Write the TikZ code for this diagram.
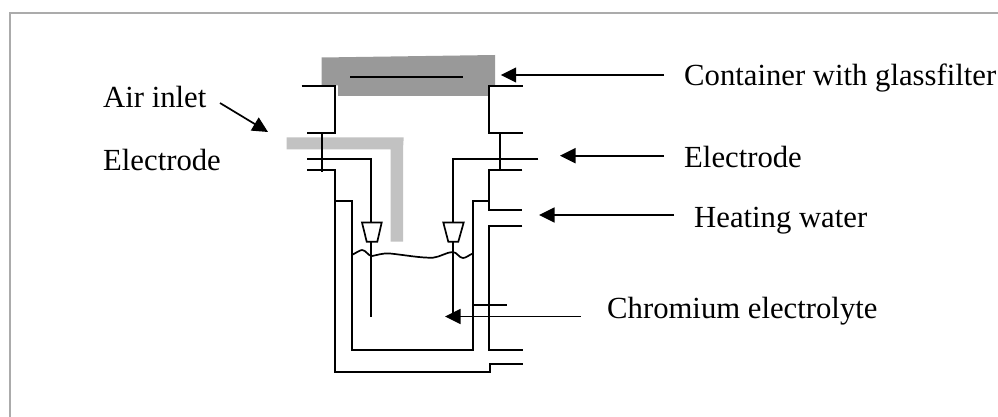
\documentclass[tikz,border=0pt]{standalone}
\usepackage{fontspec}
\setmainfont{Liberation Serif}
\usetikzlibrary{arrows.meta}
\definecolor{lidgray}{gray}{0.6}
\definecolor{tubegray}{gray}{0.76}
\definecolor{framegray}{gray}{0.67}
\tikzstyle{label} = [anchor=base west, inner sep=0pt, font=\fontsize{30.7}{30.7}\selectfont]
\tikzstyle{wall} = [line width=1.7pt, line join=miter]
\tikzstyle{arrow} = [line width=1.7pt,-{Triangle[length=15.5pt,width=15pt]}]
\begin{document}
\begin{tikzpicture}[x=1pt,y=-1pt]
		\useasboundingbox (0,0) rectangle (998,417);
		% frame
		\draw [framegray, line width=2pt] (10,417) -- (10,13.5) -- (998,13.5);
		% container and air tube
		\fill [lidgray] (321.5,57.5) -- (495,55) -- (495,85.5) -- (488.5,85.5) -- (488.5,96) -- (338,96) -- (338,85.5) -- (321.5,85.5) -- cycle;
		\fill [tubegray] (286.7,137.3) -- (403.7,137.3) -- (403,149.3) -- (403,241.7) -- (390.7,241.7) -- (390.7,149.3) -- (286.7,149.3) -- cycle;
		\draw [wall] (350,77) -- (463,77);
		% upper glass parts
		\draw [wall] (301.7,86.3) -- (335.3,86.3) -- (335.3,132.7) -- (307,132.7);
		\draw [wall] (522.5,86.3) -- (488.7,86.3) -- (488.7,132.7) -- (522.5,132.7);
		\draw [wall] (321.7,132.7) -- (321.7,171.7);
		\draw [wall] (500,132.7) -- (500,170);
		% electrodes
		\draw [wall] (307,158.7) -- (371,158.7) -- (371,222.5);
		\draw [wall] (538.3,158.7) -- (452.7,158.7) -- (452.7,222.5);
		\draw [wall] (362,222.5) -- (381.7,222.5) -- (377.3,241.7) -- (366.7,241.7) -- cycle;
		\draw [wall] (443.3,222.5) -- (463.7,222.5) -- (458.3,241.7) -- (448.3,241.7) -- cycle;
		\draw [wall] (371,241.7) -- (371,316.7);
		\draw [wall] (452.7,241.7) -- (452.7,313);
		% vessel
		\draw [wall] (307,169.7) -- (335,169.7) -- (335,371.7) -- (490,371.7) -- (490,362.7);
		\draw [wall] (490,364.3) -- (522.7,364.3);
		\draw [wall] (335,200.7) -- (351.7,200.7) -- (351.7,350) -- (472.7,350) -- (472.7,200.7) -- (489.3,200.7);
		\draw [wall] (522.3,169.7) -- (489.3,169.7) -- (489.3,210) -- (522,210);
		\draw [wall] (522.3,226.3) -- (489.3,226.3) -- (489.3,350.3) -- (522.7,350.3);
		\draw [wall] (472.7,305) -- (506.7,305);
		% liquid surface
		\draw [wall] (351.7,255) .. controls (356,253) and (360,250) .. (362,250) .. controls (366,250) and (368,256) .. (372,256) .. controls (378,255) and (382,253) .. (390,253.5) .. controls (405,255) and (420,258) .. (433,257.7) .. controls (440,257) and (447,252) .. (452.7,252) .. controls (457,252) and (459,258) .. (463,258) .. controls (466,258) and (469,255) .. (472.7,253.5);
		% labels
		\node (airinlet) [label] at (103,107.5) {Air inlet};
		\node (electrodeleft) [label] at (103,170) {Electrode};
		\node (container) [label] at (684,86) {Container with glassfilter};
		\node (electroderight) [label] at (684,167) {Electrode};
		\node (heating) [label] at (694,227) {Heating water};
		\node (chromium) [label] at (607,318.5) {Chromium electrolyte};
		% arrows
		\coordinate (airfrom) at (220,103);
		\coordinate (airto) at (268,132);
		\coordinate (containerfrom) at (664,75);
		\coordinate (containerto) at (500.7,75);
		\coordinate (electrodefrom) at (664,155.7);
		\coordinate (electrodeto) at (560,155.7);
		\coordinate (heatingfrom) at (674,215);
		\coordinate (heatingto) at (539,215);
		\coordinate (chromiumfrom) at (580.7,316.5);
		\coordinate (chromiumto) at (445,316.5);
		\draw [arrow] (airfrom) -- (airto);
		\draw [arrow] (containerfrom) -- (containerto);
		\draw [arrow] (electrodefrom) -- (electrodeto);
		\draw [arrow] (heatingfrom) -- (heatingto);
		\draw [arrow] (chromiumfrom) -- (chromiumto);
		\end{tikzpicture}
\end{document}
